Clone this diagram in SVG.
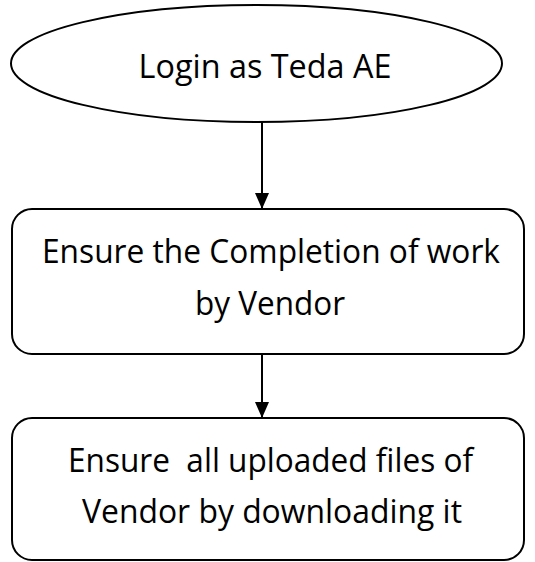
<svg xmlns="http://www.w3.org/2000/svg" width="535" height="562" viewBox="0 0 535 562">
<style>
.shape{fill:#fff;stroke:#000;stroke-width:2}
.lbl{font-family:"Open Sans","Liberation Sans",sans-serif;font-size:32px;fill:#000;text-anchor:middle}
.conn{stroke:#000;stroke-width:2;fill:none}
</style>
<defs>
<marker id="ah" markerWidth="14" markerHeight="16" refX="16" refY="7" orient="auto" markerUnits="userSpaceOnUse">
<path d="M0,0 L16,7 L0,14 Z" fill="#000"/>
</marker>
</defs>
<rect width="535" height="562" fill="#fff"/>
<g id="connectors">
<line class="conn" x1="262" y1="122" x2="262" y2="209" marker-end="url(#ah)"/>
<line class="conn" x1="262" y1="354" x2="262" y2="418" marker-end="url(#ah)"/>
</g>
<g id="start">
<ellipse class="shape" cx="256.5" cy="63.5" rx="245.5" ry="58.5"/>
<text class="lbl" x="265" y="78" textLength="253" lengthAdjust="spacingAndGlyphs">Login as Teda AE</text>
</g>
<g id="ensure-completion">
<rect class="shape" x="12" y="209" width="512" height="145" rx="20" ry="20"/>
<text class="lbl" x="271" y="263" textLength="458" lengthAdjust="spacingAndGlyphs">Ensure the Completion of work</text>
<text class="lbl" x="270" y="315" textLength="150" lengthAdjust="spacingAndGlyphs">by Vendor</text>
</g>
<g id="ensure-files">
<rect class="shape" x="12" y="418" width="512" height="142" rx="20" ry="20"/>
<text class="lbl" x="270.5" y="472" textLength="405" lengthAdjust="spacingAndGlyphs" xml:space="preserve">Ensure  all uploaded files of</text>
<text class="lbl" x="272" y="523" textLength="380" lengthAdjust="spacingAndGlyphs">Vendor by downloading it</text>
</g>
</svg>
